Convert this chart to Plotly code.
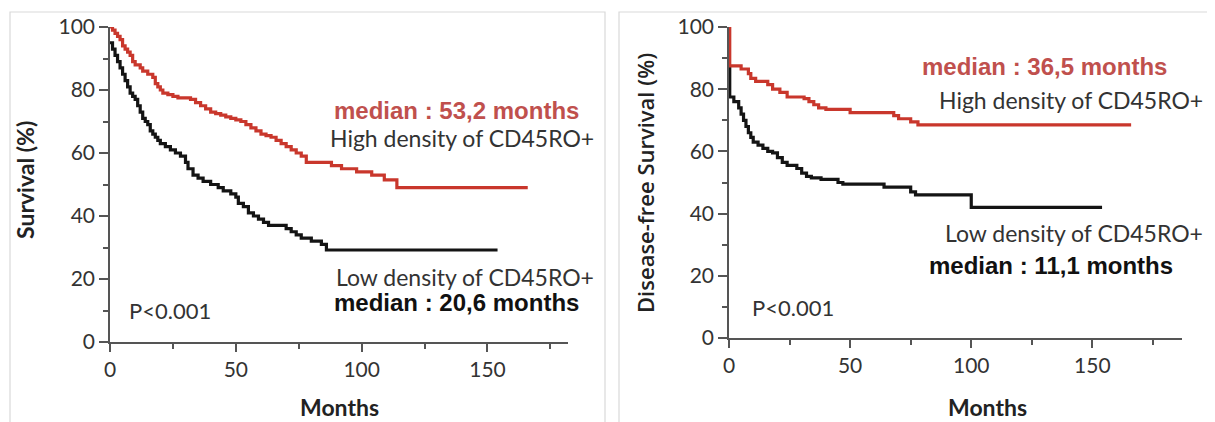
import plotly.graph_objects as go

# ---------------- data ----------------
# Overall survival (left panel), Kaplan-Meier step points (month, survival %)
os_high_t = [0, 1, 2, 3, 4, 5, 6, 7, 8, 9, 10, 12, 13, 15, 17, 18, 19, 20, 21, 23, 25, 27,
             32, 34, 36, 38, 40, 42, 44, 46, 48, 50, 52, 54, 56, 58, 60, 62, 64, 66, 68, 70,
             72, 74, 76, 78, 88, 92, 98, 104, 109, 114, 166]
os_high_s = [100, 99, 98, 97, 96, 94, 93, 92, 91, 89, 88, 87, 86, 85, 84, 82, 81, 80, 79,
             78.5, 78, 77.5, 77, 76, 75, 74, 73, 72.5, 72, 71.5, 71, 70.5, 70, 69, 68, 67,
             66, 65.5, 65, 64, 63, 62, 61, 60, 59, 57, 56, 55, 54, 53, 51.5, 49, 49]

os_low_t = [0, 1, 2, 3, 4, 5, 6, 7, 8, 9, 10, 11, 12, 13, 14, 15, 16, 17, 18, 19, 20, 22,
            24, 26, 28, 30, 31, 33, 35, 37, 40, 43, 45, 48, 50, 51, 53, 55, 57, 59, 61, 63,
            70, 72, 74, 76, 80, 84, 86, 154]
os_low_s = [95, 93, 91, 89, 87, 85, 83, 81, 79, 78, 77, 75, 73, 71, 70, 69, 67, 66, 65, 64,
            63, 62, 61, 60, 59, 57, 55, 53, 52, 51, 50, 49, 48, 47, 46, 44, 43, 41, 40, 39,
            38, 37, 36, 35, 34, 33, 32, 31, 29.2, 29.2]

# Disease-free survival (right panel)
dfs_high_t = [0, 0.3, 5, 8, 9, 11, 16, 18, 21, 24, 31, 33, 35, 37, 40, 50, 68, 70, 75, 78, 166]
dfs_high_s = [100, 87.5, 86.5, 85, 83.5, 82.5, 81.5, 80, 79, 77.5, 77, 76, 75, 74, 73.5,
              72.5, 71.5, 70.5, 69.5, 68.5, 68.5]

dfs_low_t = [0, 0.3, 2, 4, 5, 6, 7, 8, 9, 10, 12, 14, 16, 18, 20, 22, 24, 28, 30, 32, 34,
             38, 45, 47, 64, 75, 77, 100, 154]
dfs_low_s = [87, 77.5, 76, 74, 72, 70, 68, 66, 64.5, 63, 62, 61, 60, 59.5, 58, 56.5, 55.5,
             54.5, 53, 52, 51.5, 51, 50, 49.5, 48.5, 47, 46, 42, 42]

x_ticks = [0, 50, 100, 150]
y_ticks = [0, 20, 40, 60, 80, 100]

RED = "#c9372c"
BLACK = "#141414"
TXT_RED = "#c0504d"

# page body has an 8px margin: the figure starts at (8, 8) in the window
OFF = 8
W, H = 1215 - OFF, 422 - OFF


def px(x):
    return (x - OFF) / W


def py(y):
    return (H - (y - OFF)) / H


fig = go.Figure()

line_kw = dict(mode="lines", line_shape="hv", cliponaxis=False, showlegend=False,
               hoverinfo="skip")
fig.add_trace(go.Scatter(x=os_low_t, y=os_low_s, line=dict(color=BLACK, width=3.2),
                         xaxis="x", yaxis="y", **line_kw))
fig.add_trace(go.Scatter(x=os_high_t, y=os_high_s, line=dict(color=RED, width=3.2),
                         xaxis="x", yaxis="y", **line_kw))
fig.add_trace(go.Scatter(x=dfs_low_t, y=dfs_low_s, line=dict(color=BLACK, width=3.2),
                         xaxis="x2", yaxis="y2", **line_kw))
fig.add_trace(go.Scatter(x=dfs_high_t, y=dfs_high_s, line=dict(color=RED, width=3.2),
                         xaxis="x2", yaxis="y2", **line_kw))

tickfont = dict(family="Lato, Open Sans, sans-serif", size=21, color="#333333")


def xaxis(domain, rng, anchor):
    return dict(domain=domain, range=rng, anchor=anchor, showgrid=False, zeroline=False,
                automargin=False,
                showline=True, linecolor="#555555", linewidth=1.5,
                ticks="outside", ticklen=8, tickwidth=1.5, tickcolor="#555555",
                tickvals=x_ticks, ticktext=[str(v) for v in x_ticks], tickfont=tickfont,
                minor=dict(tickvals=[25, 75, 125, 175], ticks="outside", ticklen=5,
                           tickwidth=1.5, tickcolor="#555555"))


def yaxis(domain, anchor):
    return dict(domain=domain, range=[0, 100], anchor=anchor, showgrid=False, zeroline=False,
                automargin=False,
                showline=True, linecolor="#555555", linewidth=1.5,
                ticks="outside", ticklen=9, tickwidth=1.5, tickcolor="#555555",
                tickvals=y_ticks, ticktext=[str(v) for v in y_ticks], tickfont=tickfont,
                minor=dict(tickvals=[10, 30, 50, 70, 90], ticks="outside", ticklen=5,
                           tickwidth=1.5, tickcolor="#555555"))


fig.update_layout(
    width=W, height=H,
    margin=dict(l=0, r=0, t=0, b=0),
    paper_bgcolor="white", plot_bgcolor="white",
    xaxis=xaxis([px(110), px(568)], [0, 182], "y"),
    yaxis=yaxis([py(342), py(27)], "x"),
    xaxis2=xaxis([px(729), px(1182)], [0, 187], "y2"),
    yaxis2=yaxis([py(338), py(27)], "x2"),
)

# panel frames
for x0, x1 in [(10, 605), (619, 1213)]:
    fig.add_shape(type="rect", xref="paper", yref="paper", x0=px(x0), x1=px(x1),
                  y0=py(430), y1=py(12), line=dict(color="#d9d9d9", width=1.2),
                  layer="below")

lbl = dict(family="Lato, Open Sans, sans-serif", size=23, color="#333333")
bold_red = dict(family="Liberation Sans, Arial, sans-serif", size=24, color=TXT_RED,
                weight="bold")
bold_blk = dict(family="Liberation Sans, Arial, sans-serif", size=24, color="#111111",
                weight="bold")
title_font = dict(family="Lato, Open Sans, sans-serif", size=23, color="#222222",
                  weight="bold")
title2_font = dict(family="Open Sans, sans-serif", size=22, color="#222222", weight=600)
p_font = dict(family="Lato, Open Sans, sans-serif", size=22, color="#333333")


def ann(x, y, text, font, anchor="left", angle=0):
    fig.add_annotation(xref="paper", yref="paper", x=px(x), y=py(y), text=text,
                       showarrow=False, font=font, xanchor=anchor, yanchor="middle",
                       textangle=angle)


ann(332, 110, "median : 53,2 months", bold_red)
ann(596, 138, "High density of CD45RO+", lbl, "right")
ann(596, 277, "Low density of CD45RO+", lbl, "right")
ann(332, 302, "median : 20,6 months", bold_blk)
ann(127, 310, "P&lt;0.001", p_font)

ann(920, 67, "median : 36,5 months", bold_red)
ann(1205, 100, "High density of CD45RO+", lbl, "right")
ann(1205, 233, "Low density of CD45RO+", lbl, "right")
ann(927, 265, "median : 11,1 months", bold_blk)
ann(750, 307, "P&lt;0.001", p_font)

# axis titles
ann(25, 180, "Survival (%)", title_font, "center", -90)
ann(645, 183, "Disease-free Survival (%)", title2_font, "center", -90)
ann(339, 407, "Months", title_font, "center")
ann(987, 407, "Months", title_font, "center")

fig.write_html("out.html")
